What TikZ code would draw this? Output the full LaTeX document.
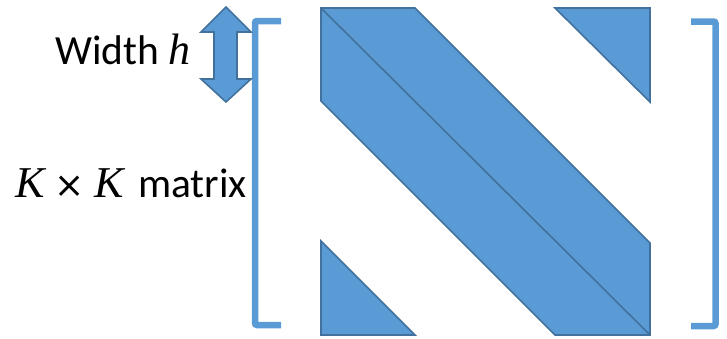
\documentclass[tikz,border=0pt]{standalone}
\usepackage{fontspec}
\setmainfont{Carlito}
\newfontfamily\serfam{Liberation Serif}
\newfontfamily\symfam{DejaVu Sans}
\definecolor{fillblue}{HTML}{5B9BD5}
\definecolor{edgeblue}{HTML}{41719C}
\newcommand{\mi}[1]{{\serfam\itshape\fontsize{44}{46}\selectfont #1}}
\tikzset{
  band/.style={fill=fillblue, draw=edgeblue, line width=1.6pt, line join=miter},
  bracket/.style={draw=fillblue, line width=6.5pt, rounded corners=2pt},
  lbl/.style={inner sep=0pt, anchor=base west, font=\fontsize{41.5}{43}\selectfont}
}
\begin{document}
\begin{tikzpicture}[x=1pt,y=-1pt]
\useasboundingbox (0,0) rectangle (727,338);
% main band
\path[band] (321,8) -- (415,8) -- (650,243) -- (650,335) -- (555,335) -- (321,101) -- cycle;
\draw[edgeblue, line width=1.6pt] (321,8) -- (650,335);
% corner triangles
\path[band] (555,8) -- (650,8) -- (650,102) -- cycle;
\path[band] (321,241) -- (321,335) -- (415,335) -- cycle;
% brackets
\draw[bracket] (281,21) -- (255,21) -- (255,325) -- (281,325);
\draw[bracket] (691,21.5) -- (715.5,21.5) -- (715.5,326) -- (691,326);
% double arrow
\path[band] (226,7) -- (251,32) -- (237,32) -- (237,79) -- (251,79) -- (226,102)
  -- (201,79) -- (214,79) -- (214,32) -- (201,32) -- cycle;
% labels
\node[lbl] (w) at (55,64) {Width\hspace{9pt}\mi{h}};
\node[lbl] (k) at (15,197) {\mi{K}\hspace{10pt}{\symfam\fontsize{36}{40}\selectfont ×}\hspace{10pt}\mi{K}\hspace{14pt}matrix};
\end{tikzpicture}
\end{document}
